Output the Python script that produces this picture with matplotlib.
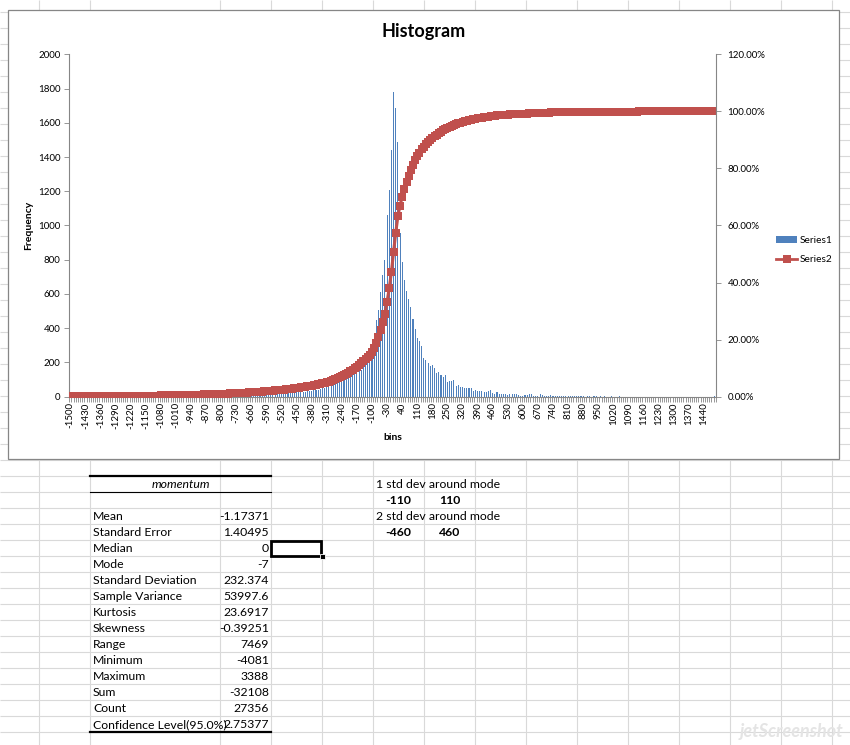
import numpy as np
import matplotlib
matplotlib.use("Agg")
from matplotlib import pyplot as plt
from matplotlib.patches import Rectangle, Patch
from matplotlib.lines import Line2D
from matplotlib.ticker import FixedLocator, FuncFormatter
from matplotlib.transforms import Bbox, TransformedBbox

plt.rcParams['font.family'] = ['Lato', 'DejaVu Sans']

# histogram bins (upper edge of each bin), -1500 .. 1490 step 10
bins = np.arange(-1500, 1500, 10)

# frequency per bin
left_tail = [22, 1, 0, 2, 1, 1, 0, 2, 1, 3, 1, 2, 0, 1, 2, 1, 3, 2, 1, 2,
             2, 1, 3, 2, 2, 1, 3, 2, 4, 2, 3, 2, 3, 4, 2, 3, 3, 2, 4, 3,
             3, 4, 3, 2, 4, 4, 3, 5, 4, 3]                      # -1500 .. -1010
mid_left = [4, 5, 3, 5, 4, 6, 5, 4, 6, 5, 6, 7, 5, 6, 7, 6, 8, 7, 6, 8,
            8, 7, 9, 8, 9, 10, 8, 10, 9, 11, 10, 11, 12, 10, 12, 13, 12, 14, 13, 15]  # -1000 .. -610
near_left = [14, 16, 15, 17, 16, 18, 19, 18, 20, 21, 20, 22, 23, 22, 24, 25, 26, 27, 28, 30]  # -600 .. -410
shoulder_left = [31, 33, 35, 37, 39, 42, 45, 48, 51, 55, 59, 63, 68, 74, 80, 87, 95, 102, 108, 114,
                 120, 126, 133, 140, 148, 156, 172, 185, 198, 211]   # -400 .. -110
core = [270, 340, 446, 504, 612, 710, 798, 1062, 1208, 1443, 1781, 1687, 1486, 955, 788,
        680, 620, 570, 524, 452, 397]                             # -100 .. 100
shoulder_right = [342, 328, 299, 227, 217, 196, 182, 188, 168, 137, 143, 129, 117, 129, 84,
                  90, 94, 100, 65, 70, 59, 59, 51, 51, 51, 51, 35, 39, 35, 35]  # 110 .. 400
right_tail = [35, 25, 30, 35, 41, 20, 17, 25, 17, 17, 17, 14, 11, 14, 14, 14, 14, 11, 6, 4,
              11, 8, 17, 13, 6, 6, 4, 13, 8, 6]                   # 410 .. 700
far_right = [6, 4, 8, 5, 3, 6, 4, 7, 3, 5, 4, 3, 5, 2, 4, 3, 2, 4, 1, 3,
             2, 1, 3, 2, 1, 2, 0, 2, 1, 1, 2, 0, 1, 1, 2, 0, 1, 0, 1, 1,
             0, 1, 0, 1, 0, 0, 1, 0, 1, 0, 0, 1, 0, 0, 1, 0, 0, 0, 1, 0,
             0, 0, 1, 0, 0, 0, 0, 1, 0, 0, 0, 0, 1, 0, 0, 0, 0, 0, 3]  # 710 .. 1490

freq = np.array(left_tail + mid_left + near_left + shoulder_left + core
                + shoulder_right + right_tail + far_right)
assert len(freq) == len(bins)
cum_pct = np.cumsum(freq) / freq.sum()

# descriptive statistics table
stat_names = ["Mean", "Standard Error", "Median", "Mode", "Standard Deviation",
              "Sample Variance", "Kurtosis", "Skewness", "Range", "Minimum",
              "Maximum", "Sum", "Count", "Confidence Level(95.0%)"]
stat_values = ["-1.17371", "1.40495", "0", "-7", "232.374", "53997.6", "23.6917",
               "-0.39251", "7469", "-4081", "3388", "-32108", "27356", "2.75377"]

BLUE = '#4f81bd'
RED = '#c0504d'
GRID = '#d9d9d9'
AXIS = '#868686'
W, H = 850, 745
CELL_FS = 8.8

fig = plt.figure(figsize=(W / 100, H / 100), dpi=100)

# spreadsheet background in pixel coordinates
sheet = fig.add_axes([0, 0, 1, 1])
sheet.set_xlim(0, W)
sheet.set_ylim(H, 0)
sheet.axis('off')
sheet.set_zorder(0)

col_edges = [39, 90, 220, 271, 322, 373, 424, 475, 526, 577, 628, 679, 730, 781, 832]
row_edges = list(range(12, H, 16))
sheet.vlines(col_edges, 0, H, color=GRID, lw=0.8)
sheet.hlines(row_edges, 0, W, color=GRID, lw=0.8)

# chart area frame
sheet.add_patch(Rectangle((8, 10), 831, 449, facecolor='white', edgecolor=AXIS, lw=0.9, zorder=3))
sheet.text(423.5, 31, "Histogram", ha='center', va='center', fontsize=13, fontweight='bold', zorder=4)
sheet.text(392.5, 438, "bins", ha='center', va='center', fontsize=7.5, fontweight='bold', zorder=4)
sheet.text(29, 225.5, "Frequency", ha='center', va='center', rotation=90, fontsize=7.5,
           fontweight='bold', zorder=4)

# descriptive statistics block
sheet.plot([90, 271], [476, 476], color='black', lw=1.6)
sheet.plot([90, 271], [492, 492], color='black', lw=0.8)
sheet.plot([90, 271], [732, 732], color='black', lw=1.6)
sheet.text(180.5, 484.5, "momentum", ha='center', va='center', fontsize=CELL_FS, style='italic')
for k, (name, val) in enumerate(zip(stat_names, stat_values)):
    yc = 508 + 16 * k + 8.5
    t = sheet.text(93, yc, name, ha='left', va='center', fontsize=CELL_FS)
    # Excel cuts the label at the column edge
    t.set_clip_box(TransformedBbox(Bbox([[90, yc - 8.5], [219, yc + 7.5]]), sheet.transData))
    sheet.text(269, yc, val, ha='right', va='center', fontsize=CELL_FS)

# selected cell
sheet.add_patch(Rectangle((271.5, 540.5), 50, 15, fill=False, edgecolor='black', lw=2.0, zorder=5))
sheet.add_patch(Rectangle((320, 554), 5, 5, facecolor='black', edgecolor='white', lw=0.6, zorder=6))

# std dev notes
sheet.text(376, 484.5, "1 std dev around mode", ha='left', va='center', fontsize=CELL_FS)
sheet.text(398.5, 500.5, "-110", ha='center', va='center', fontsize=CELL_FS, fontweight='bold')
sheet.text(449.5, 500.5, "110", ha='center', va='center', fontsize=CELL_FS, fontweight='bold')
sheet.text(376, 516.5, "2 std dev around mode", ha='left', va='center', fontsize=CELL_FS)
sheet.text(398.5, 532.5, "-460", ha='center', va='center', fontsize=CELL_FS, fontweight='bold')
sheet.text(449.5, 532.5, "460", ha='center', va='center', fontsize=CELL_FS, fontweight='bold')

# watermark
sheet.text(792, 732, "jetScreenshot", ha='center', va='center', fontsize=13, style='italic',
           fontweight='bold', color='#e4e4e4', zorder=2)

# plot area
px0, px1, py0, py1 = 69.3, 715.7, 54.3, 396.7
ax = fig.add_axes([px0 / W, 1 - py1 / H, (px1 - px0) / W, (py1 - py0) / H])
ax.set_zorder(2)
ax.patch.set_visible(False)

x = np.arange(len(bins))
ax.bar(x, freq, width=0.5, color=BLUE, linewidth=0, antialiased=False, zorder=2)
ax.set_xlim(-0.5, len(bins) - 0.5)
ax.set_ylim(0, 2000)
ax.set_yticks(range(0, 2001, 200))

ax.set_xticks(x[::7])
ax.set_xticklabels([str(b) for b in bins[::7]], rotation=90, fontsize=7)
ax.xaxis.set_minor_locator(FixedLocator(np.arange(-0.5, len(bins), 1.0)))
ax.tick_params(axis='x', which='major', length=0, pad=4)
ax.tick_params(axis='x', which='minor', length=3.5, width=0.6, color=AXIS, direction='out')
ax.tick_params(axis='y', which='major', length=3.5, width=0.6, color=AXIS, labelsize=7, pad=3)

for side in ['top', 'right']:
    ax.spines[side].set_visible(False)
for side in ['left', 'bottom']:
    ax.spines[side].set_color(AXIS)
    ax.spines[side].set_linewidth(0.8)

ax2 = ax.twinx()
ax2.set_zorder(3)
ax2.patch.set_visible(False)
ax2.plot(x, cum_pct, color=RED, lw=2.2, marker='s', markersize=5.5, markeredgewidth=0)
ax2.set_ylim(0, 1.2)
ax2.set_yticks(np.arange(0, 1.21, 0.2))
ax2.yaxis.set_major_formatter(FuncFormatter(lambda v, _: f"{v * 100:.2f}%"))
ax2.tick_params(axis='y', length=3.5, width=0.6, color=AXIS, labelsize=7, pad=5)
for side in ['top', 'left', 'bottom']:
    ax2.spines[side].set_visible(False)
ax2.spines['right'].set_color(AXIS)
ax2.spines['right'].set_linewidth(0.8)

handles = [Patch(facecolor=BLUE, edgecolor='none'),
           Line2D([], [], color=RED, lw=2, marker='s', markersize=5.5, markeredgewidth=0)]
fig.legend(handles, ["Series1", "Series2"], loc='center left',
           bbox_to_anchor=(767 / W, 1 - 250 / H), frameon=False, fontsize=7.3,
           handlelength=2.1, handleheight=0.6, handletextpad=0.25, labelspacing=1.0)

fig.savefig("out.png", dpi=100)
